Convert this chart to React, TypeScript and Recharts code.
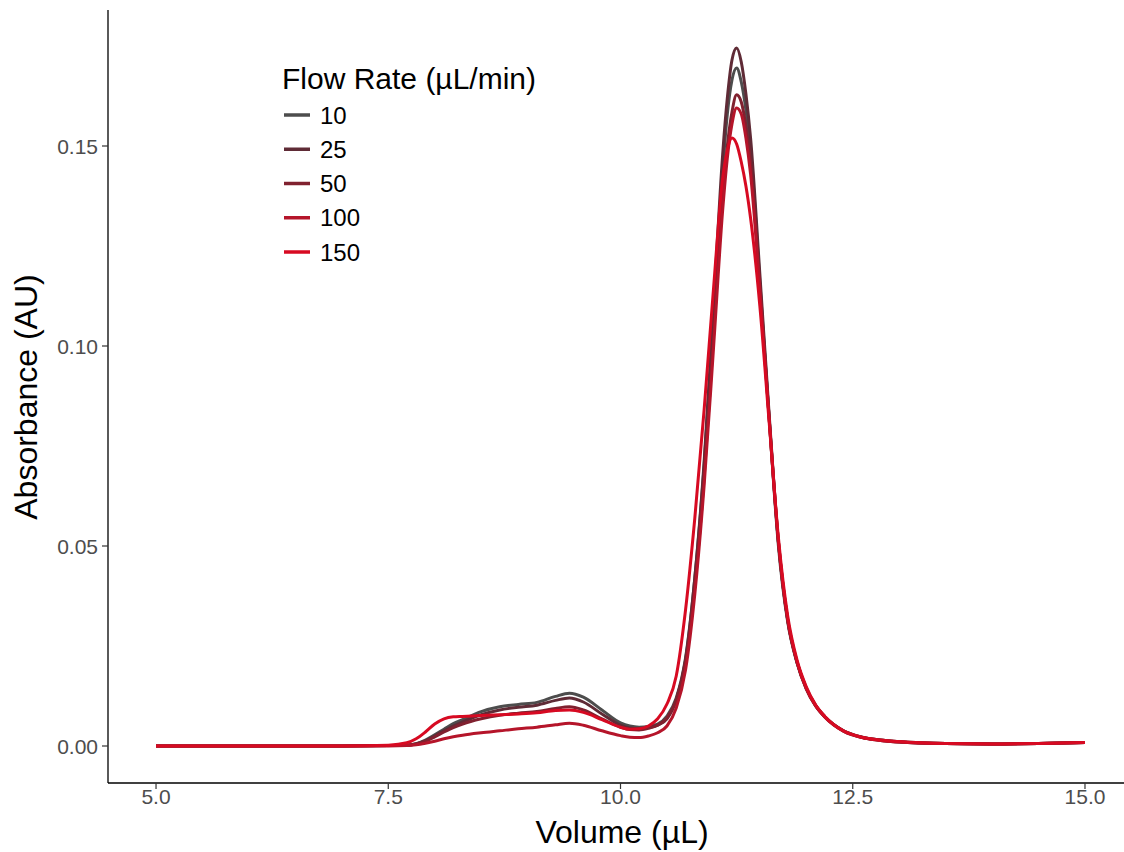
import React from 'react';
import { LineChart, Line, XAxis, YAxis, Legend } from 'recharts';

// elution volume (µL)
const volume = [
  5.0, 6.0, 7.0, 7.5, 7.7, 7.8, 7.9, 8.0, 8.1, 8.2, 8.3, 8.5, 8.7, 8.9, 9.1, 9.3, 9.45, 9.6, 9.8, 10.0,
  10.1, 10.2, 10.3, 10.4, 10.5, 10.6, 10.7, 10.8, 10.9, 11.0, 11.1, 11.15, 11.2, 11.25, 11.3, 11.35, 11.4,
  11.5, 11.6, 11.7, 11.8, 11.9, 12.0, 12.1, 12.2, 12.4, 12.6, 12.8, 13.0, 13.5, 14.0, 14.5, 15.0,
];

// absorbance per flow rate (µL/min)
const abs10 = [
  0, 0, 0, 0.0001, 0.0002, 0.0006, 0.0015, 0.0028, 0.0042, 0.0056, 0.0066, 0.0086, 0.0098, 0.0104, 0.0109, 0.0124, 0.0132, 0.0122, 0.009, 0.0058,
  0.005, 0.0047, 0.0049, 0.0055, 0.0075, 0.012, 0.022, 0.042, 0.07, 0.107, 0.144, 0.158, 0.1665, 0.1695, 0.166, 0.159, 0.149,
  0.116, 0.082, 0.05, 0.031, 0.0208, 0.0143, 0.0101, 0.0073, 0.0038, 0.0022, 0.0015, 0.0011, 0.0006, 0.0005, 0.0006, 0.0009,
];
const abs25 = [
  0, 0, 0, 0.0001, 0.0002, 0.0005, 0.0013, 0.0025, 0.0038, 0.005, 0.006, 0.0078, 0.009, 0.0097, 0.0102, 0.0114, 0.012, 0.011, 0.008, 0.0052,
  0.0045, 0.0043, 0.0046, 0.0052, 0.0068, 0.0115, 0.0215, 0.042, 0.071, 0.109, 0.148, 0.162, 0.1715, 0.1745, 0.171, 0.163, 0.152,
  0.118, 0.083, 0.051, 0.0315, 0.021, 0.0145, 0.0102, 0.0073, 0.0038, 0.0022, 0.0015, 0.001, 0.0006, 0.0005, 0.0006, 0.0009,
];
const abs50 = [
  0, 0, 0, 0.0001, 0.0002, 0.0005, 0.0012, 0.0023, 0.0035, 0.0046, 0.0055, 0.0068, 0.0077, 0.0082, 0.0086, 0.0094, 0.0098, 0.009, 0.0068, 0.0047,
  0.0041, 0.004, 0.0044, 0.0052, 0.007, 0.0115, 0.021, 0.04, 0.067, 0.102, 0.137, 0.15, 0.1585, 0.1628, 0.161, 0.155, 0.146,
  0.115, 0.082, 0.051, 0.0315, 0.021, 0.0144, 0.0101, 0.0073, 0.0037, 0.0021, 0.0014, 0.001, 0.0006, 0.0005, 0.0006, 0.0009,
];
const abs100 = [
  0, 0, 0, 0, 0.0001, 0.0003, 0.0007, 0.0012, 0.0018, 0.0023, 0.0027, 0.0033, 0.0038, 0.0043, 0.0047, 0.0053, 0.0057, 0.0052, 0.0038, 0.0026,
  0.0022, 0.0021, 0.0025, 0.0033, 0.005, 0.0095, 0.019, 0.038, 0.065, 0.099, 0.134, 0.147, 0.1555, 0.1595, 0.158, 0.152, 0.143,
  0.114, 0.082, 0.051, 0.0315, 0.021, 0.0143, 0.01, 0.0072, 0.0037, 0.0021, 0.0014, 0.001, 0.0006, 0.0005, 0.0006, 0.0009,
];
const abs150 = [
  0, 0, 0, 0.0002, 0.0008, 0.0018, 0.0035, 0.0055, 0.0068, 0.0073, 0.0074, 0.0076, 0.0078, 0.008, 0.0083, 0.0089, 0.009, 0.0084, 0.0066, 0.0047,
  0.0042, 0.0043, 0.005, 0.0068, 0.0105, 0.0175, 0.034, 0.057, 0.084, 0.114, 0.142, 0.149, 0.152, 0.1505, 0.146, 0.14, 0.132,
  0.11, 0.081, 0.052, 0.0325, 0.0215, 0.0148, 0.0103, 0.0074, 0.0038, 0.0022, 0.0015, 0.0011, 0.0006, 0.0005, 0.0006, 0.0009,
];

const flowRates = ['10', '25', '50', '100', '150'];
const COLORS = ['#4d4d4d', '#5f2b36', '#80212f', '#b5152a', '#d70a22'];
const series = [abs10, abs25, abs50, abs100, abs150];

const xTicks = [5, 7.5, 10, 12.5, 15];
const yTicks = [0, 0.05, 0.1, 0.15];

const data = volume.map((v, i) => {
  const row: Record<string, number> = { volume: v };
  flowRates.forEach((f, k) => {
    row[`f${f}`] = series[k][i];
  });
  return row;
});

const FONT = '"Liberation Sans", Arial, sans-serif';

const XTick = ({ x, y, payload }: any) => (
  <text x={x} y={y + 15} textAnchor="middle" fontSize={21} fill="#4d4d4d" fontFamily={FONT}>
    {Number(payload.value).toFixed(1)}
  </text>
);

const YTick = ({ x, y, payload }: any) => (
  <text x={x} y={y + 7.5} textAnchor="end" fontSize={21} fill="#4d4d4d" fontFamily={FONT}>
    {Number(payload.value).toFixed(2)}
  </text>
);

const FlowLegend = () => (
  <svg width={300} height={220} style={{ display: 'block' }}>
    <text x={4} y={39} fontSize={30} fill="#000" fontFamily={FONT}>Flow Rate (µL/min)</text>
    {flowRates.map((f, i) => {
      const cy = 65 + i * 34.25;
      return (
        <g key={f}>
          <line x1={6} x2={32} y1={cy} y2={cy} stroke={COLORS[i]} strokeWidth={3.5} />
          <text x={42} y={cy + 8.5} fontSize={24} fill="#000" fontFamily={FONT}>{f}</text>
        </g>
      );
    })}
  </svg>
);

export default function App() {
  return (
    <div style={{ position: 'absolute', left: 0, top: 0, width: 1124, height: 852, background: '#fff' }}>
      <LineChart width={1124} height={852} data={data} margin={{ top: 10, right: 0, bottom: 0, left: 0 }}>
        <XAxis
          dataKey="volume"
          type="number"
          domain={[4.483, 15.42]}
          ticks={xTicks}
          allowDataOverflow
          height={69}
          tickSize={6}
          tickMargin={0}
          tick={<XTick />}
          axisLine={{ stroke: '#000', strokeWidth: 1.3 }}
          tickLine={{ stroke: '#333', strokeWidth: 1.2 }}
          label={{
            content: () => (
              <text x={622} y={843} textAnchor="middle" fontSize={32} fill="#000" fontFamily={FONT}>Volume (µL)</text>
            ),
          }}
        />
        <YAxis
          type="number"
          domain={[-0.00925, 0.184]}
          ticks={yTicks}
          allowDataOverflow
          width={108}
          tickSize={6}
          tickMargin={4}
          tick={<YTick />}
          axisLine={{ stroke: '#000', strokeWidth: 1.3 }}
          tickLine={{ stroke: '#333', strokeWidth: 1.2 }}
          label={{
            content: () => (
              <text
                x={37}
                y={397}
                transform="rotate(-90, 37, 397)"
                textAnchor="middle"
                fontSize={32}
                fill="#000"
                fontFamily={FONT}
              >
                Absorbance (AU)
              </text>
            ),
          }}
        />
        <Legend
          layout="vertical"
          align="center"
          verticalAlign="middle"
          wrapperStyle={{ top: 50, left: 278, width: 300, height: 220 }}
          content={() => <FlowLegend />}
        />
        {flowRates.map((f, i) => (
          <Line
            key={f}
            type="monotone"
            dataKey={`f${f}`}
            name={f}
            stroke={COLORS[i]}
            strokeWidth={3}
            dot={false}
            isAnimationActive={false}
          />
        ))}
      </LineChart>
    </div>
  );
}
